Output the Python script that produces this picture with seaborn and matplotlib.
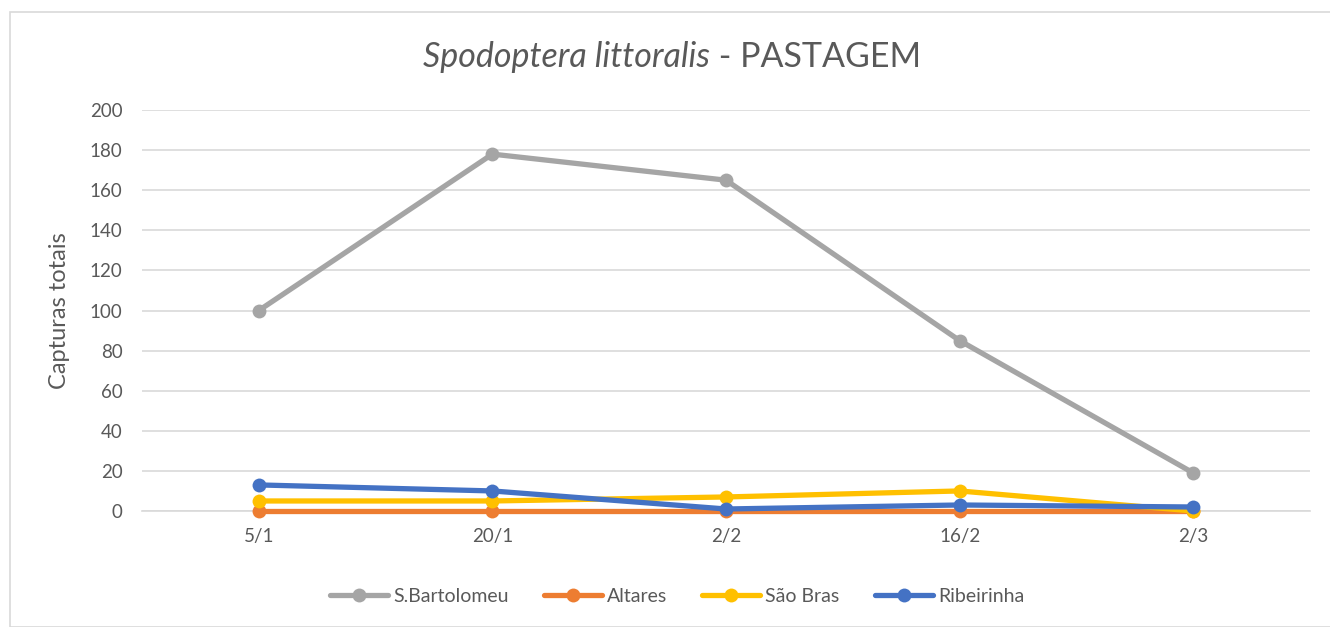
import matplotlib
matplotlib.use("Agg")
import matplotlib.pyplot as plt
import seaborn as sns
import pandas as pd
from matplotlib.patches import Rectangle

dates = ["5/1", "20/1", "2/2", "16/2", "2/3"]
s_bartolomeu = [100, 178, 165, 85, 19]
altares = [0, 0, 0, 0, 0]
sao_bras = [5, 5, 7, 10, 0]
ribeirinha = [13, 10, 1, 3, 2]
series_names = ["S.Bartolomeu", "Altares", "São Bras", "Ribeirinha"]
colors = ["#A5A5A5", "#ED7D31", "#FFC000", "#4472C4"]

sns.set_style("white")
plt.rcParams['font.family'] = ['Lato', 'DejaVu Sans']

fig = plt.figure(figsize=(13.3, 6.27), dpi=100)
ax = fig.add_axes([142/1330, 1-511/627, (1310-142)/1330, (511-110)/627])

rows = []
for name, vals in zip(series_names, [s_bartolomeu, altares, sao_bras, ribeirinha]):
    for i, v in enumerate(vals):
        rows.append({"idx": i, "value": v, "serie": name})
df = pd.DataFrame(rows)

for name, col in zip(series_names, colors):
    sub = df[df.serie == name]
    sns.lineplot(data=sub, x="idx", y="value", ax=ax, color=col, linewidth=3.8,
                 marker="o", markersize=10, markeredgewidth=0, label=name,
                 solid_capstyle="round", zorder=3)

ax.set_xlim(-0.5, 4.5)
ax.set_ylim(0, 200)
ax.set_yticks(range(0, 201, 20))
ax.set_xticks(range(len(dates)))
ax.set_xticklabels(dates)
ax.set_xlabel("")
ax.set_ylabel("Capturas totais", fontsize=17, color="#595959", labelpad=14)
ax.grid(axis="y", color="#D9D9D9", linewidth=1.2)
ax.set_axisbelow(True)
for s in ["top", "right", "left"]:
    ax.spines[s].set_visible(False)
ax.spines["bottom"].set_color("#D9D9D9")
ax.spines["bottom"].set_linewidth(1.2)
ax.spines["bottom"].set_zorder(1)
ax.tick_params(axis="both", length=0, labelsize=13.5, labelcolor="#595959")
ax.tick_params(axis="x", pad=12)
ax.tick_params(axis="y", pad=14)
for line in ax.lines:
    line.set_clip_on(False)

ty = 1-57/627
t1 = fig.text(0.5, ty, "Spodoptera littoralis", fontsize=24.5, color="#595959",
              style="italic", ha="left", va="center")
t2 = fig.text(0.5, ty, " - PASTAGEM", fontsize=24.5, color="#595959",
              ha="left", va="center")
fig.canvas.draw()
r = fig.canvas.get_renderer()
w1 = t1.get_window_extent(r).width
w2 = t2.get_window_extent(r).width
x0 = 672 - (w1 + w2) / 2
t1.set_x(x0 / 1330)
t2.set_x((x0 + w1) / 1330)

ax.legend_.remove()
handles, labels = ax.get_legend_handles_labels()
leg = fig.legend(handles, labels, loc="center", bbox_to_anchor=(677/1330, 1-596/627),
                 ncol=4, frameon=False, fontsize=14, handlelength=3.0,
                 columnspacing=1.8, handletextpad=0.25)
for txt in leg.get_texts():
    txt.set_color("#595959")

fig.patches.append(Rectangle((10/1330, 0), 1.1, 1-12/627, transform=fig.transFigure,
                             fill=False, edgecolor="#D9D9D9", linewidth=1.2))

fig.savefig("out.png", dpi=100, facecolor="white")
